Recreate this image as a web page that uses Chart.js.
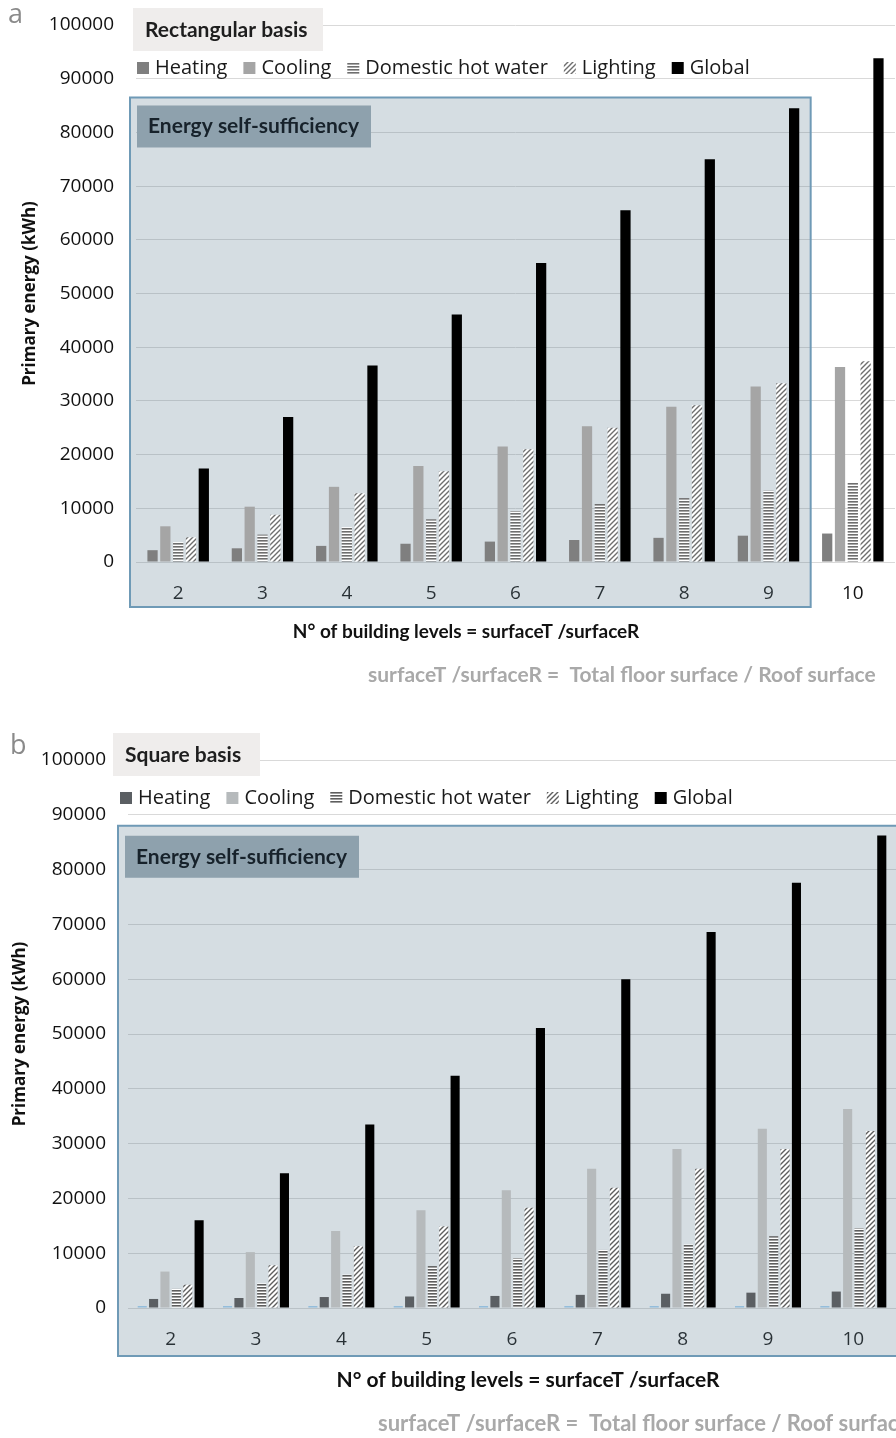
<!DOCTYPE html>
<html>
<head>
<meta charset="utf-8">
<script src="https://cdn.jsdelivr.net/npm/chart.js@4"></script>
<style>
  body { margin: 0; background: #fff; width: 896px; height: 1438px; position: relative; overflow: hidden; }
  .wrap { position: absolute; left: 0; width: 896px; }
</style>
</head>
<body>
<div class="wrap" style="top:0;height:700px"><canvas id="chartA"></canvas></div>
<div class="wrap" style="top:720px;height:718px"><canvas id="chartB"></canvas></div>
<script>
// building levels = surfaceT / surfaceR
const levels = ['2', '3', '4', '5', '6', '7', '8', '9', '10'];

// (a) rectangular basis, kWh
const rectHeating  = [2200, 2550, 3000, 3400, 3800, 4100, 4500, 4900, 5300];
const rectCooling  = [6650, 10300, 14000, 17900, 21500, 25300, 28900, 32700, 36300];
const rectDhw      = [3700, 5100, 6500, 7950, 9500, 10800, 11900, 13300, 14800];
const rectLighting = [4600, 8800, 12800, 16900, 21000, 25000, 29200, 33300, 37400];
const rectGlobal   = [17400, 27000, 36600, 46100, 55700, 65500, 75000, 84500, 93800];

// (b) square basis, kWh
const sqOther    = [350, 350, 350, 350, 350, 350, 350, 350, 350];
const sqHeating  = [1650, 1830, 2000, 2100, 2200, 2400, 2600, 2800, 3000];
const sqCooling  = [6650, 10200, 14050, 17850, 21500, 25400, 29000, 32700, 36300];
const sqDhw      = [3500, 4500, 6100, 7650, 9100, 10600, 11600, 13100, 14550];
const sqLighting = [4250, 7800, 11300, 14900, 18300, 21950, 25400, 29000, 32300];
const sqGlobal   = [16000, 24600, 33500, 42400, 51100, 60000, 68600, 77600, 86200];

const yMax = 100000;
const yStep = 10000;

// fill patterns
function stripes(color) {
  var c = document.createElement('canvas');
  c.width = 4; c.height = 3;
  var g = c.getContext('2d');
  g.fillStyle = '#fff'; g.fillRect(0, 0, 4, 3);
  g.fillStyle = color; g.fillRect(0, 0, 4, 1.6);
  return g.createPattern(c, 'repeat');
}
function hatch(color) {
  var c = document.createElement('canvas');
  c.width = 5; c.height = 5;
  var g = c.getContext('2d');
  g.fillStyle = '#fff'; g.fillRect(0, 0, 5, 5);
  g.strokeStyle = color; g.lineWidth = 1.4;
  g.beginPath();
  g.moveTo(-1, 6); g.lineTo(6, -1);
  g.moveTo(-1, 1); g.lineTo(1, -1);
  g.moveTo(4, 6); g.lineTo(6, 4);
  g.stroke();
  return g.createPattern(c, 'repeat');
}

function zoneRect(chart, o) {
  var x = chart.scales.x, y = chart.scales.y, area = chart.chartArea;
  var left = area.left - o.boxLeft;
  var right = o.boxEnd == null ? chart.width + 10
    : (x.getPixelForValue(o.boxEnd) + x.getPixelForValue(o.boxEnd + 1)) / 2;
  var top = y.getPixelForValue(o.boxTop);
  var bottom = area.bottom + o.boxBottom;
  return { left: left, top: top, w: right - left, h: bottom - top };
}

const decoPlugin = {
  id: 'deco',
  beforeDatasetsDraw(chart, args, o) {
    var ctx = chart.ctx, r = zoneRect(chart, o);
    ctx.save();
    ctx.fillStyle = 'rgba(105,134,152,0.28)';
    ctx.fillRect(r.left, r.top, r.w, r.h);
    ctx.restore();
  },
  afterDatasetsDraw(chart, args, o) {
    var ctx = chart.ctx, area = chart.chartArea, r = zoneRect(chart, o);
    ctx.save();
    ctx.strokeStyle = '#6f9ab6';
    ctx.lineWidth = 2;
    ctx.strokeRect(r.left, r.top, r.w, r.h);

    // energy self-sufficiency label
    ctx.fillStyle = 'rgb(142,161,173)';
    ctx.fillRect(r.left + 7, r.top + o.zoneLabelDy, 234, 42);
    ctx.fillStyle = '#17222b';
    ctx.font = 'bold 21px Lato';
    ctx.textBaseline = 'middle';
    ctx.textAlign = 'left';
    ctx.fillText('Energy self-sufficiency', r.left + 18, r.top + o.zoneLabelDy + 21);

    // title box
    ctx.fillStyle = '#efedec';
    ctx.fillRect(o.titleX, o.titleY, o.titleW, 43);
    ctx.fillStyle = '#1e1e1e';
    ctx.font = 'bold 21px Lato';
    ctx.fillText(o.title, o.titleX + 12, o.titleY + 22);

    // legend
    var lx = o.legendX, ly = area.top + o.legendDy;
    ctx.font = '20px "Open Sans"';
    chart.data.datasets.forEach(function(ds) {
      if (!ds.label) return;
      ctx.fillStyle = ds.backgroundColor;
      ctx.fillRect(lx, ly - 6, 12, 12);
      ctx.fillStyle = '#1a1a1a';
      ctx.fillText(ds.label, lx + 18, ly);
      lx += 18 + ctx.measureText(ds.label).width + 16;
    });

    // panel letter
    ctx.fillStyle = '#8a8a8a';
    ctx.font = '27px "Open Sans"';
    ctx.fillText(o.letter, o.letterX, o.letterY);

    // x axis title and note
    ctx.fillStyle = '#111';
    ctx.font = 'bold ' + o.xTitleSize + 'px Lato';
    ctx.textAlign = 'center';
    ctx.fillText('N\u00b0 of building levels = surfaceT /surfaceR', o.xTitleX, area.bottom + o.xTitleDy);
    ctx.fillStyle = '#a9a9a9';
    ctx.textAlign = 'left';
    ctx.font = 'bold ' + o.noteSize + 'px Lato';
    ctx.fillText('surfaceT /surfaceR =  Total floor surface / Roof surface', o.noteX, area.bottom + o.noteDy);
    ctx.restore();
  }
};

function makeChart(id, datasets, pad, yWidth, yTitlePad, catPct, deco) {
  var ctx = document.getElementById(id).getContext('2d');
  return new Chart(ctx, {
    type: 'bar',
    data: { labels: levels, datasets: datasets },
    options: {
      responsive: true,
      maintainAspectRatio: false,
      animation: false,
      layout: { padding: pad },
      datasets: { bar: { categoryPercentage: catPct, barPercentage: 0.8 } },
      plugins: {
        legend: { display: false },
        tooltip: { enabled: false },
        deco: deco
      },
      scales: {
        x: {
          grid: { display: false },
          border: { display: false },
          ticks: { color: '#111', padding: 12, font: { family: 'Open Sans', size: 19 } },
          afterFit: function(s) { s.height = 50; }
        },
        y: {
          min: 0,
          max: yMax,
          grid: { color: '#d9d9d9', drawTicks: true, tickLength: 22, tickColor: 'rgba(0,0,0,0)' },
          border: { display: false },
          ticks: {
            stepSize: yStep, color: '#111', padding: 0,
            font: { family: 'Open Sans', size: 19 },
            callback: function(v) { return String(v); }
          },
          title: {
            display: true,
            text: 'Primary energy (kWh)',
            color: '#111',
            padding: { top: yTitlePad, bottom: 0 },
            font: { family: 'Open Sans', size: 17, weight: 'bold' }
          },
          afterFit: function(s) { s.width = yWidth; }
        }
      }
    },
    plugins: [decoPlugin]
  });
}

makeChart('chartA', [
  { label: 'Heating', data: rectHeating, backgroundColor: '#7f7f7f' },
  { label: 'Cooling', data: rectCooling, backgroundColor: '#a5a5a5' },
  { label: 'Domestic hot water', data: rectDhw, backgroundColor: stripes('#6e6e6e') },
  { label: 'Lighting', data: rectLighting, backgroundColor: hatch('#6e6e6e') },
  { label: 'Global', data: rectGlobal, backgroundColor: '#000' }
], { top: 25, right: 1, bottom: 88, left: 0 }, 136, 20, 0.76, {
  boxLeft: 6, boxEnd: 7, boxTop: 86500, boxBottom: 45, zoneLabelDy: 8,
  title: 'Rectangular basis', titleX: 133, titleY: 8, titleW: 190,
  legendX: 137, legendDy: 43,
  letter: 'a', letterX: 8, letterY: 15,
  xTitleSize: 19, xTitleX: 466, xTitleDy: 70,
  noteSize: 21, noteX: 368, noteDy: 113
});

makeChart('chartB', [
  { label: '', data: sqOther, backgroundColor: '#8fbbdb' },
  { label: 'Heating', data: sqHeating, backgroundColor: '#5b5f63' },
  { label: 'Cooling', data: sqCooling, backgroundColor: '#b6babc' },
  { label: 'Domestic hot water', data: sqDhw, backgroundColor: stripes('#5e5e5e') },
  { label: 'Lighting', data: sqLighting, backgroundColor: hatch('#5e5e5e') },
  { label: 'Global', data: sqGlobal, backgroundColor: '#000' }
], { top: 40, right: 0, bottom: 80, left: 0 }, 128, 10, 0.8, {
  boxLeft: 10, boxEnd: null, boxTop: 88000, boxBottom: 48, zoneLabelDy: 10,
  title: 'Square basis', titleX: 113, titleY: 13, titleW: 147,
  legendX: 120, legendDy: 38,
  letter: 'b', letterX: 10, letterY: 26,
  xTitleSize: 21, xTitleX: 528, xTitleDy: 72,
  noteSize: 22, noteX: 378, noteDy: 116
});
</script>
</body>
</html>
